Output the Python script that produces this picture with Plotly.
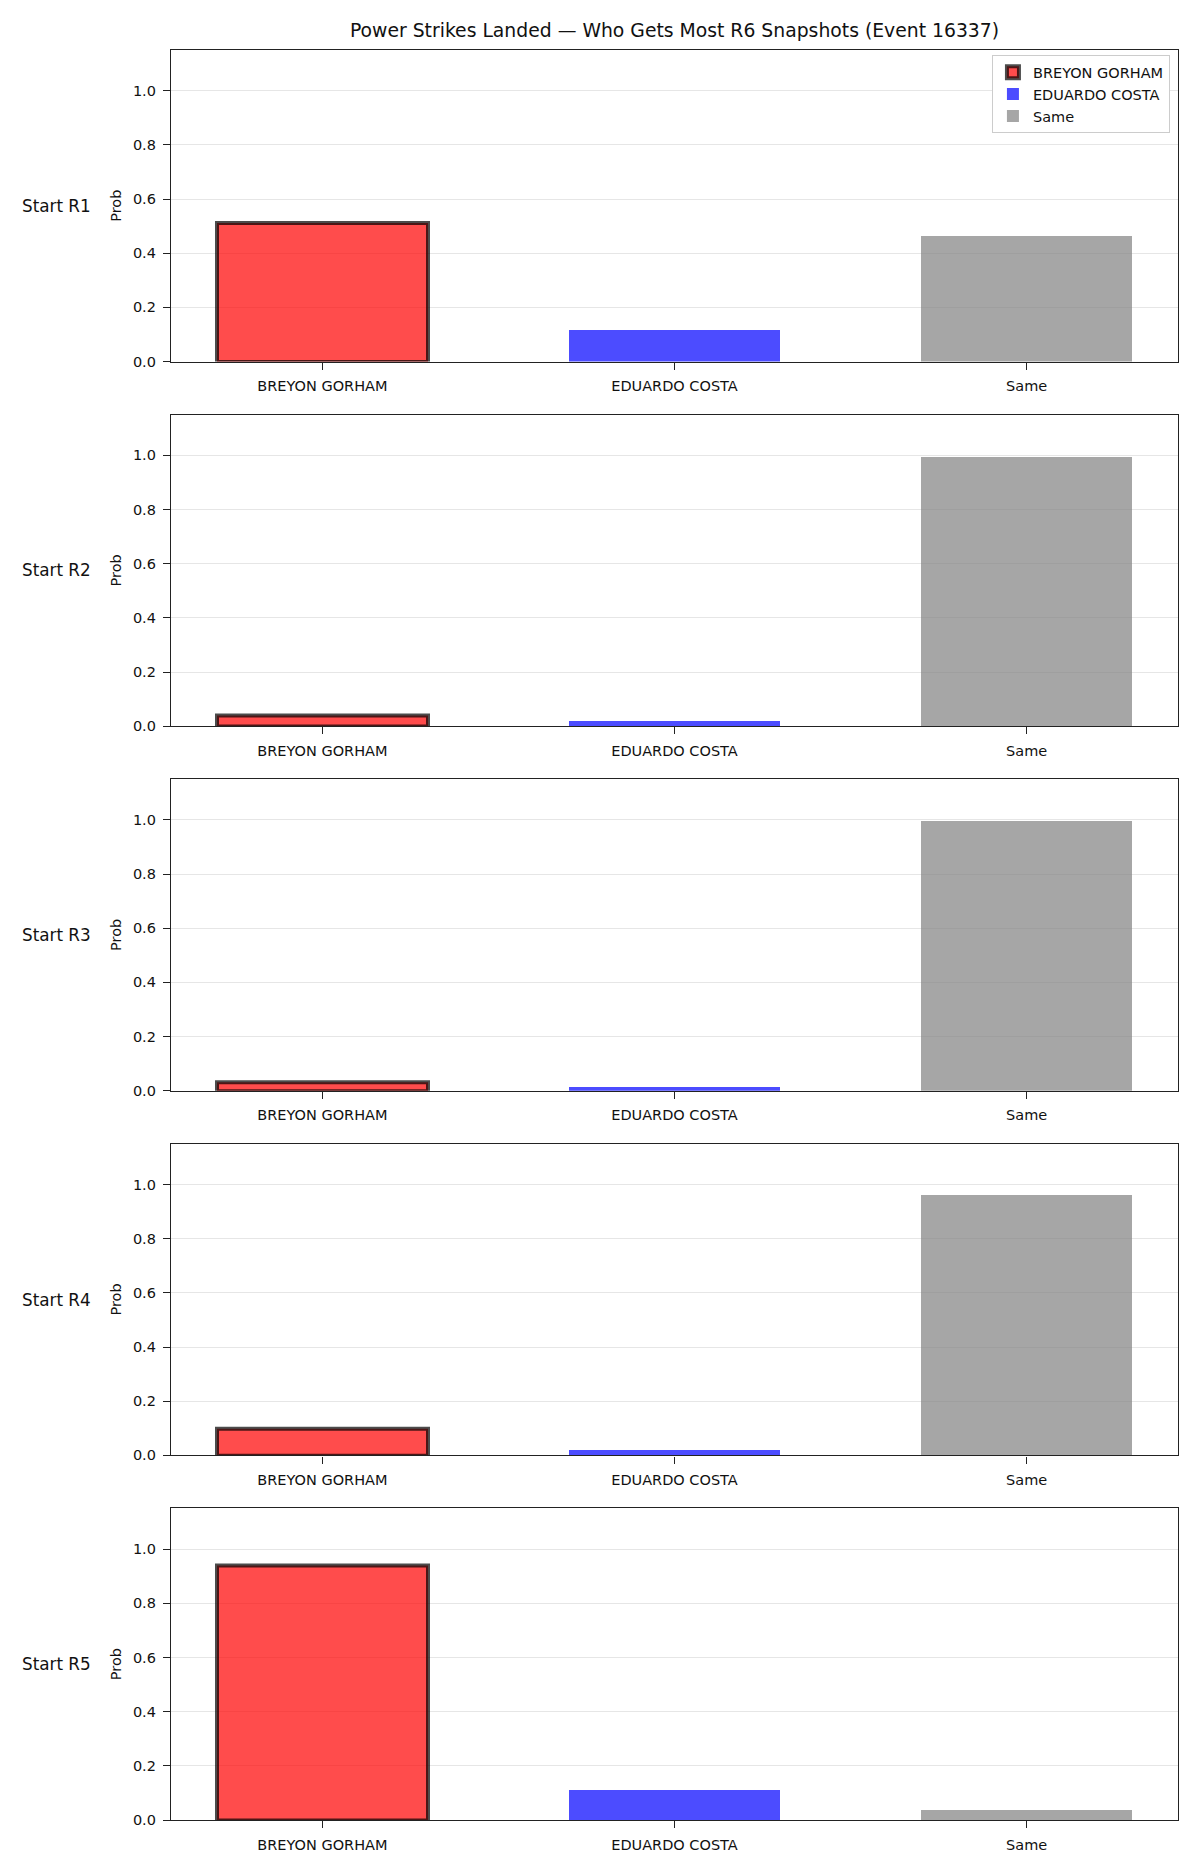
import plotly.graph_objects as go
from plotly.subplots import make_subplots

title = "Power Strikes Landed — Who Gets Most R6 Snapshots (Event 16337)"
categories = ["BREYON GORHAM", "EDUARDO COSTA", "Same"]
row_labels = ["Start R1", "Start R2", "Start R3", "Start R4", "Start R5"]
breyon = [0.51, 0.04, 0.03, 0.10, 0.94]
eduardo = [0.115, 0.02, 0.015, 0.02, 0.11]
same = [0.463, 0.995, 0.995, 0.96, 0.035]
yticks = [0.0, 0.2, 0.4, 0.6, 0.8, 1.0]

W, H = 1200, 1875
ml, mr, mt, mb = 171, 22, 50, 55
ph = H - mt - mb
pw = W - ml - mr

fig = make_subplots(rows=5, cols=1, vertical_spacing=53 / ph)

colors = ["rgba(255,0,0,0.7)", "rgba(0,0,255,0.7)", "rgba(128,128,128,0.7)"]
series = [breyon, eduardo, same]
font = "DejaVu Sans"

for r in range(5):
    for i, (name, vals) in enumerate(zip(categories, series)):
        fig.add_trace(go.Bar(
            x=[i], y=[vals[r]], name=name, width=0.6,
            marker=dict(color=colors[i],
                        line=dict(color="rgba(0,0,0,0.7)" if i == 0 else "rgba(0,0,0,0)",
                                  width=4 if i == 0 else 0)),
            showlegend=(r == 0), legendgroup=name,
        ), row=r + 1, col=1)
    fig.update_xaxes(range=[-0.43, 2.43], tickvals=[0, 1, 2], ticktext=categories,
                     ticks="outside", ticklen=7, tickcolor="#222", showline=True,
                     linecolor="#222", linewidth=1.3, mirror=True, showgrid=False,
                     zeroline=False, ticklabelstandoff=4,
                     tickfont=dict(size=14.5, color="#111", family=font),
                     row=r + 1, col=1)
    fig.update_yaxes(range=[0, 1.15], tickvals=yticks, ticktext=[f"{v:.1f}" for v in yticks],
                     ticks="outside", ticklen=7, tickcolor="#222", showline=True,
                     linecolor="#222", linewidth=1.3, mirror=True, showgrid=True,
                     gridcolor="#e6e6e6", gridwidth=1, zeroline=False, ticklabelstandoff=4,
                     tickfont=dict(size=14.5, color="#111", family=font),
                     row=r + 1, col=1)

annotations = []
for r in range(5):
    dom = fig.layout[f"yaxis{'' if r == 0 else r + 1}"].domain
    yc = (dom[0] + dom[1]) / 2
    annotations.append(dict(text=row_labels[r], xref="paper", yref="paper",
                            x=(56 - ml) / pw, y=yc, xanchor="center", yanchor="middle",
                            showarrow=False, font=dict(size=16.8, color="#111", family=font)))
    annotations.append(dict(text="Prob", xref="paper", yref="paper",
                            x=(116 - ml) / pw, y=yc, xanchor="center", yanchor="middle",
                            textangle=-90, showarrow=False,
                            font=dict(size=14.5, color="#111", family=font)))

fig.update_layout(
    width=W, height=H,
    margin=dict(l=ml, r=mr, t=mt, b=mb),
    paper_bgcolor="white", plot_bgcolor="white",
    title=dict(text=title, x=(ml + pw / 2) / W, xanchor="center", y=1 - 30 / H, yanchor="middle",
               font=dict(size=18.8, color="#111", family=font)),
    barmode="overlay",
    bargap=0,
    legend=dict(x=0.992, y=0.997, xanchor="right", yanchor="top",
                bgcolor="white", bordercolor="#cccccc", borderwidth=1,
                font=dict(size=14.5, color="#111", family=font), tracegroupgap=0),
    annotations=annotations,
    font=dict(family=font),
)

fig.write_html("out.html")
